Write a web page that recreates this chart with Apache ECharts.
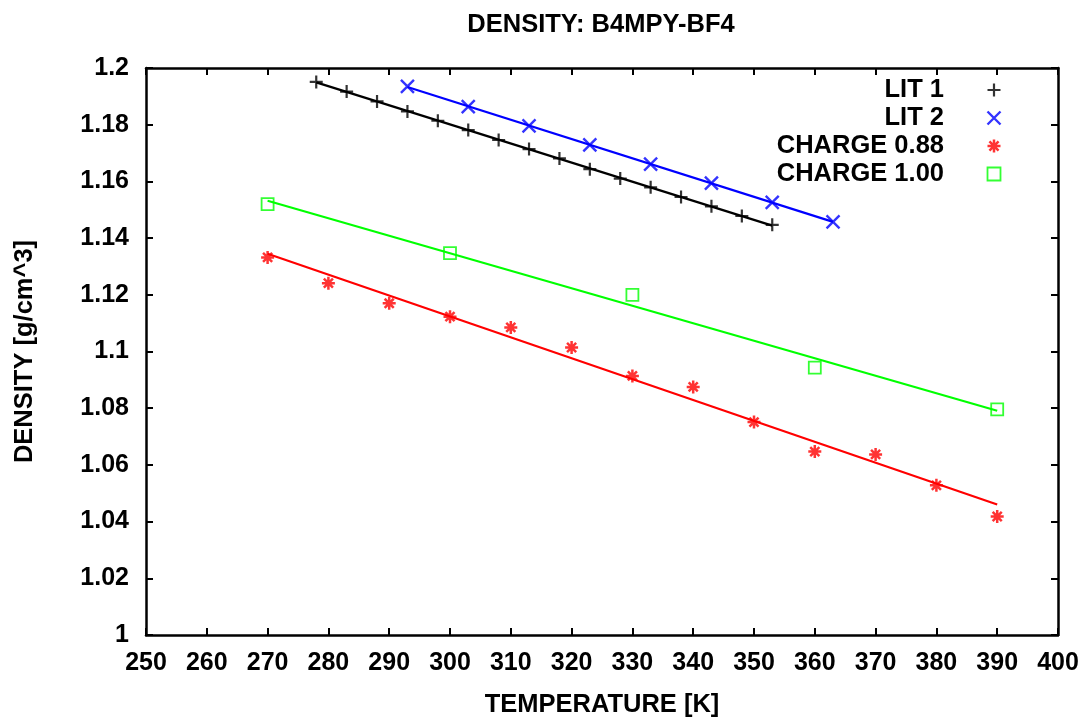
<!DOCTYPE html>
<html>
<head>
<meta charset="utf-8">
<title>Density B4MPY-BF4</title>
<script src="https://cdn.jsdelivr.net/npm/echarts@6/dist/echarts.min.js"></script>
<style>
  html, body { margin: 0; padding: 0; background: #ffffff; }
  #chart { width: 1087px; height: 719px; }
</style>
</head>
<body>
<div id="chart"></div>
<script>
// Literature set 1
const lit1T = [278, 283, 288, 293, 298, 303, 308, 313, 318, 323, 328, 333, 338, 343, 348, 353];
const lit1Rho = [1.1951, 1.1917, 1.1882, 1.1847, 1.1814, 1.1781, 1.1746, 1.1714, 1.1681, 1.1643, 1.1610, 1.1579, 1.1545, 1.1512, 1.1478, 1.1447];

// Literature set 2
const lit2T = [293, 303, 313, 323, 333, 343, 353, 363];
const lit2Rho = [1.1935, 1.1864, 1.1796, 1.1729, 1.1661, 1.1594, 1.1526, 1.1457];

// Simulations, charge scaling 0.88
const charge088T = [270, 280, 290, 300, 310, 320, 330, 340, 350, 360, 370, 380, 390];
const charge088Rho = [1.1332, 1.1241, 1.1170, 1.1123, 1.1085, 1.1014, 1.0914, 1.0875, 1.0751, 1.0647, 1.0637, 1.0528, 1.0418];

// Simulations, full charge
const charge100T = [270, 300, 330, 360, 390];
const charge100Rho = [1.1520, 1.1347, 1.1200, 1.0943, 1.0796];

const seriesNames = ['LIT 1', 'LIT 2', 'CHARGE 0.88', 'CHARGE 1.00'];
const seriesColors = ['#000000', '#0000ff', '#ff0000', '#00ff00'];

// Point shapes (gnuplot style: plus, cross, star, open square)
const SYM_PLUS = 'path://M5 0L5 10M0 5L10 5';
const SYM_CROSS = 'path://M0 0L10 10M10 0L0 10';
const SYM_STAR = 'path://M5 0L5 10M0 5L10 5M1.5 1.5L8.5 8.5M8.5 1.5L1.5 8.5';
const SYM_SQUARE = 'path://M0 0L10 0L10 10L0 10Z';
const symbols = [SYM_PLUS, SYM_CROSS, SYM_STAR, SYM_SQUARE];
const symbolSizes = [13, 13, 13, 12];
const strokeWidths = [2.2, 2.4, 2.5, 1.8];

const FONT = '"Liberation Sans", Arial, sans-serif';

function pairs(xs, ys) {
  return xs.map((x, i) => [x, ys[i]]);
}

// Least-squares straight line over the range of the data
function fitLine(xs, ys) {
  const n = xs.length;
  const mx = xs.reduce((a, b) => a + b, 0) / n;
  const my = ys.reduce((a, b) => a + b, 0) / n;
  let sxy = 0, sxx = 0;
  for (let i = 0; i < n; i++) {
    sxy += (xs[i] - mx) * (ys[i] - my);
    sxx += (xs[i] - mx) * (xs[i] - mx);
  }
  const b = sxy / sxx;
  const a = my - b * mx;
  const x0 = Math.min(...xs), x1 = Math.max(...xs);
  return [[x0, a + b * x0], [x1, a + b * x1]];
}

const datasets = [
  [lit1T, lit1Rho],
  [lit2T, lit2Rho],
  [charge088T, charge088Rho],
  [charge100T, charge100Rho]
];

const series = [];
datasets.forEach(([xs, ys], i) => {
  series.push({
    name: seriesNames[i] + ' fit',
    type: 'line',
    data: fitLine(xs, ys),
    showSymbol: false,
    silent: true,
    lineStyle: { color: seriesColors[i], width: 2.2 },
    z: 2
  });
});
datasets.forEach(([xs, ys], i) => {
  series.push({
    name: seriesNames[i],
    type: 'scatter',
    data: pairs(xs, ys),
    symbol: symbols[i],
    symbolSize: symbolSizes[i],
    itemStyle: { color: 'none', borderColor: seriesColors[i], borderWidth: strokeWidths[i] },
    z: 3
  });
});

// One legend block per entry so the labels stay right-aligned against their samples
const legendRowTops = [77, 105, 133, 161];
const legends = seriesNames.map((name, i) => ({
  data: [{
    name: name,
    icon: symbols[i],
    itemStyle: { color: 'none', borderColor: seriesColors[i], borderWidth: strokeWidths[i] }
  }],
  orient: 'vertical',
  align: 'right',
  right: 84,
  top: legendRowTops[i],
  padding: 0,
  itemWidth: 90,
  itemHeight: 13,
  selectedMode: false,
  textStyle: { fontFamily: FONT, fontWeight: 'bold', fontSize: 25.5, lineHeight: 24, color: '#000' }
}));

const axisLineStyle = { color: '#000', width: 2.5 };
const tickStyle = { show: true, inside: true, length: 7, lineStyle: { color: '#000', width: 2 } };

const option = {
  backgroundColor: '#ffffff',
  animation: false,
  title: {
    text: 'DENSITY: B4MPY-BF4',
    left: 601,
    top: 13,
    padding: 0,
    textAlign: 'center',
    textStyle: { fontFamily: FONT, fontWeight: 'bold', fontSize: 25.5, lineHeight: 24, color: '#000' }
  },
  legend: legends,
  grid: { left: 146, right: 29, top: 68, bottom: 84, containLabel: false, outerBoundsMode: 'none' },
  xAxis: [
    {
      type: 'value', min: 250, max: 400, interval: 10, position: 'bottom',
      name: 'TEMPERATURE [K]', nameLocation: 'middle', nameGap: 57,
      nameTextStyle: { fontFamily: FONT, fontWeight: 'bold', fontSize: 25.5, color: '#000' },
      axisLine: { show: true, onZero: false, lineStyle: axisLineStyle },
      axisTick: tickStyle,
      axisLabel: { margin: 16, fontFamily: FONT, fontWeight: 'bold', fontSize: 25, color: '#000' },
      splitLine: { show: false }
    },
    {
      type: 'value', min: 250, max: 400, interval: 10, position: 'top',
      axisLine: { show: true, onZero: false, lineStyle: axisLineStyle },
      axisTick: tickStyle,
      axisLabel: { show: false },
      splitLine: { show: false }
    }
  ],
  yAxis: [
    {
      type: 'value', min: 1, max: 1.2, interval: 0.02, position: 'left',
      name: 'DENSITY [g/cm^3]', nameLocation: 'middle', nameGap: 108,
      nameTextStyle: { fontFamily: FONT, fontWeight: 'bold', fontSize: 25.5, color: '#000' },
      axisLine: { show: true, onZero: false, lineStyle: axisLineStyle },
      axisTick: tickStyle,
      axisLabel: { margin: 17, fontFamily: FONT, fontWeight: 'bold', fontSize: 25, color: '#000' },
      splitLine: { show: false }
    },
    {
      type: 'value', min: 1, max: 1.2, interval: 0.02, position: 'right',
      axisLine: { show: true, onZero: false, lineStyle: axisLineStyle },
      axisTick: tickStyle,
      axisLabel: { show: false },
      splitLine: { show: false }
    }
  ],
  series: series
};

const chart = echarts.init(document.getElementById('chart'), null, { renderer: 'canvas' });
chart.setOption(option);
</script>
</body>
</html>
